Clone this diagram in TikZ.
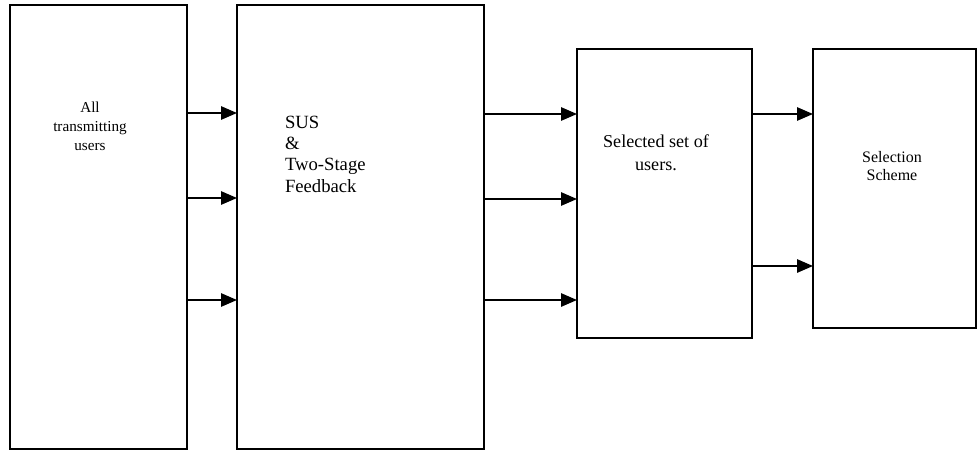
\documentclass[tikz,border=0pt]{standalone}
\usepackage{fontspec}
\setmainfont{Liberation Serif}
\usetikzlibrary{arrows.meta}

\begin{document}
\begin{tikzpicture}[x=0.75pt, y=-0.75pt, >={Triangle[length=12pt, width=10pt]}, line width=1.4pt,
  block/.style={draw, rectangle, inner sep=0pt, outer sep=0pt},
  txt/.style={inner sep=0pt, outer sep=0pt}]
  \useasboundingbox (0,0) rectangle (977,450);
  % the four blocks
  \node[block, minimum width=132.75pt, minimum height=333pt] (users) at (98.5,227) {};
  \node[block, minimum width=185.25pt, minimum height=333pt] (sus) at (360.5,227) {};
  \node[block, minimum width=131.25pt, minimum height=216.75pt] (selset) at (664.5,193.5) {};
  \node[block, minimum width=122.25pt, minimum height=209.25pt] (scheme) at (894.5,188.5) {};
  % texts
  \node[txt, align=center, font=\fontsize{11.4}{14.25}\selectfont] (userstxt) at (90,126) {All\\transmitting\\users};
  \node[txt, align=left, anchor=west, font=\fontsize{14}{16}\selectfont] (sustxt) at (285,154) {SUS\\\&\\Two-Stage\\Feedback};
  \node[txt, align=center, font=\fontsize{13.6}{17.25}\selectfont] (selsettxt) at (656,153) {Selected set of\\users.};
  \node[txt, align=center, font=\fontsize{12}{13.5}\selectfont] (schemetxt) at (892,166.5) {Selection\\Scheme};
  % arrows
  \foreach \y in {113,198,300}
    \draw[->] (users.east |- 0,\y) -- (sus.west |- 0,\y);
  \foreach \y in {114,199,300}
    \draw[->] (sus.east |- 0,\y) -- (selset.west |- 0,\y);
  \foreach \y in {114,266}
    \draw[->] (selset.east |- 0,\y) -- (scheme.west |- 0,\y);
\end{tikzpicture}
\end{document}
